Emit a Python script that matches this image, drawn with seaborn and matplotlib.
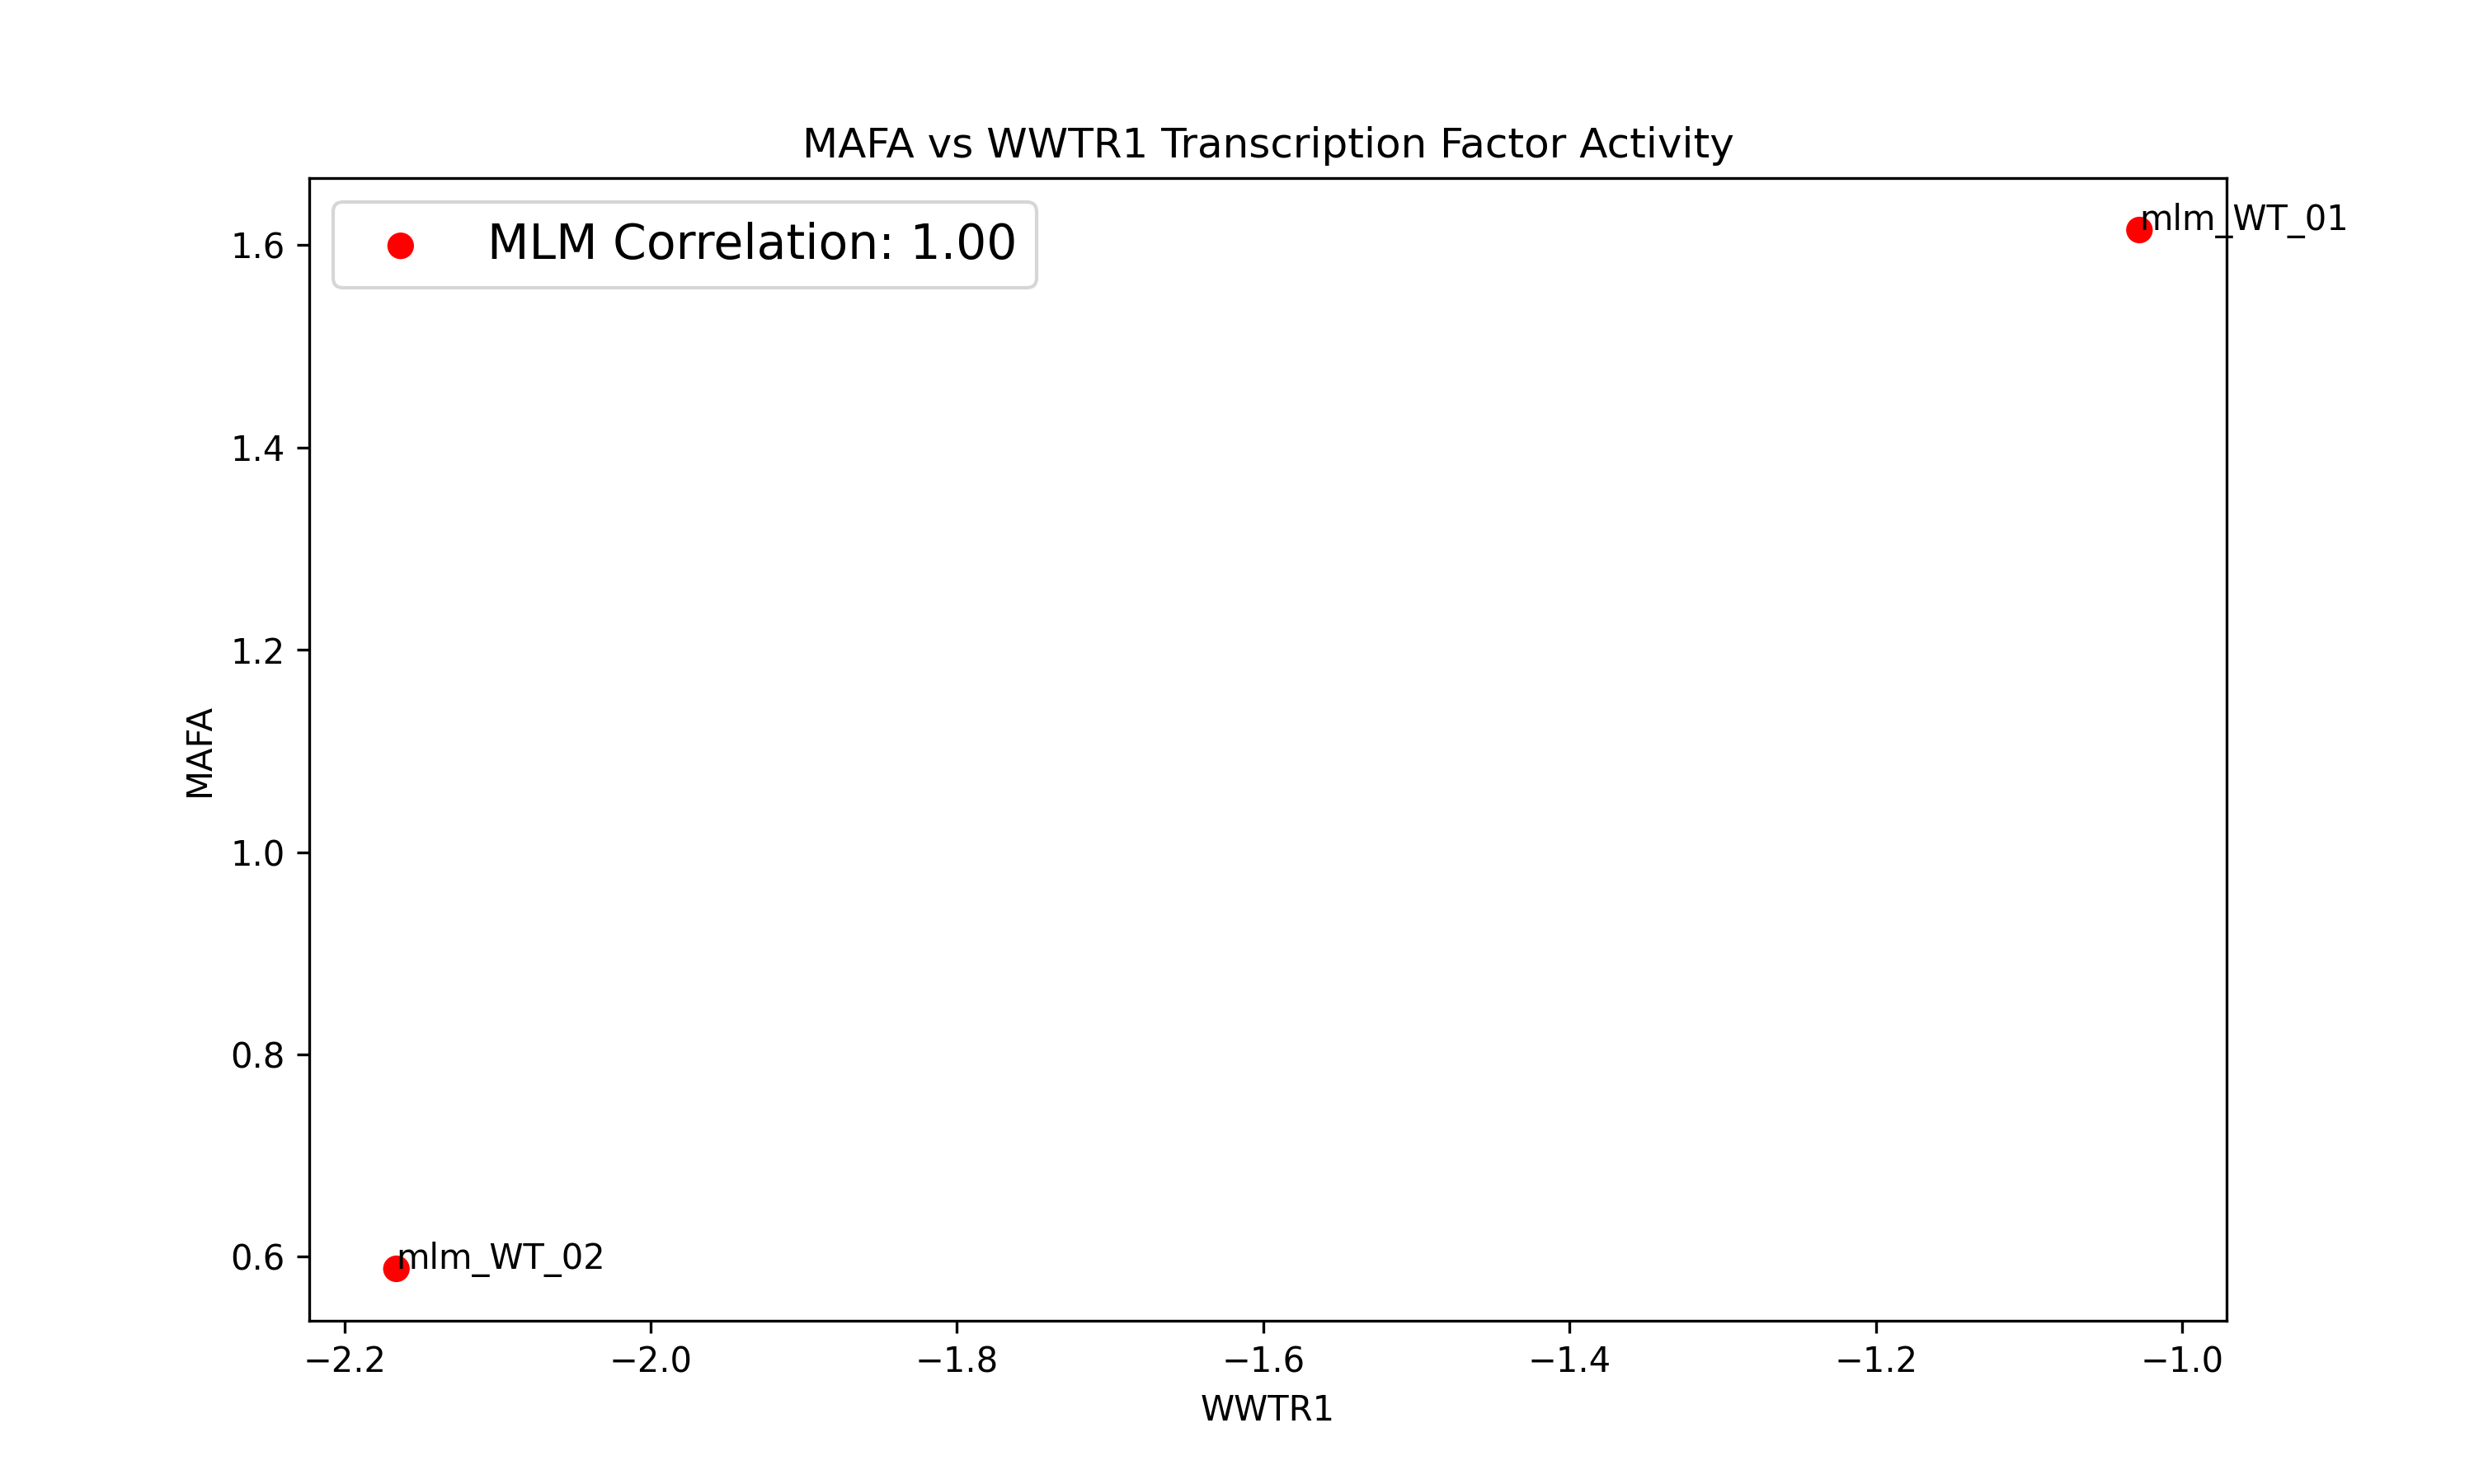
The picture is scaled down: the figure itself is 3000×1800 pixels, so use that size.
import matplotlib
matplotlib.use("Agg")
import matplotlib.pyplot as plt
import seaborn as sns
import pandas as pd

samples = ["mlm_WT_01", "mlm_WT_02"]
wwtr1 = [-1.028, -2.166]
mafa = [1.615, 0.588]
corr = 1.00

df = pd.DataFrame({"sample": samples, "WWTR1": wwtr1, "MAFA": mafa})

fig, ax = plt.subplots(figsize=(10, 6))
sns.scatterplot(data=df, x="WWTR1", y="MAFA", color="red", s=60, edgecolor="none",
                label=f"MLM Correlation: {corr:.2f}", ax=ax)
for _, r in df.iterrows():
    ax.text(r["WWTR1"], r["MAFA"], r["sample"], fontsize=10)
ax.set_title("MAFA vs WWTR1 Transcription Factor Activity")
ax.legend(fontsize=14, loc="upper left")
plt.savefig("out.png", dpi=300)
